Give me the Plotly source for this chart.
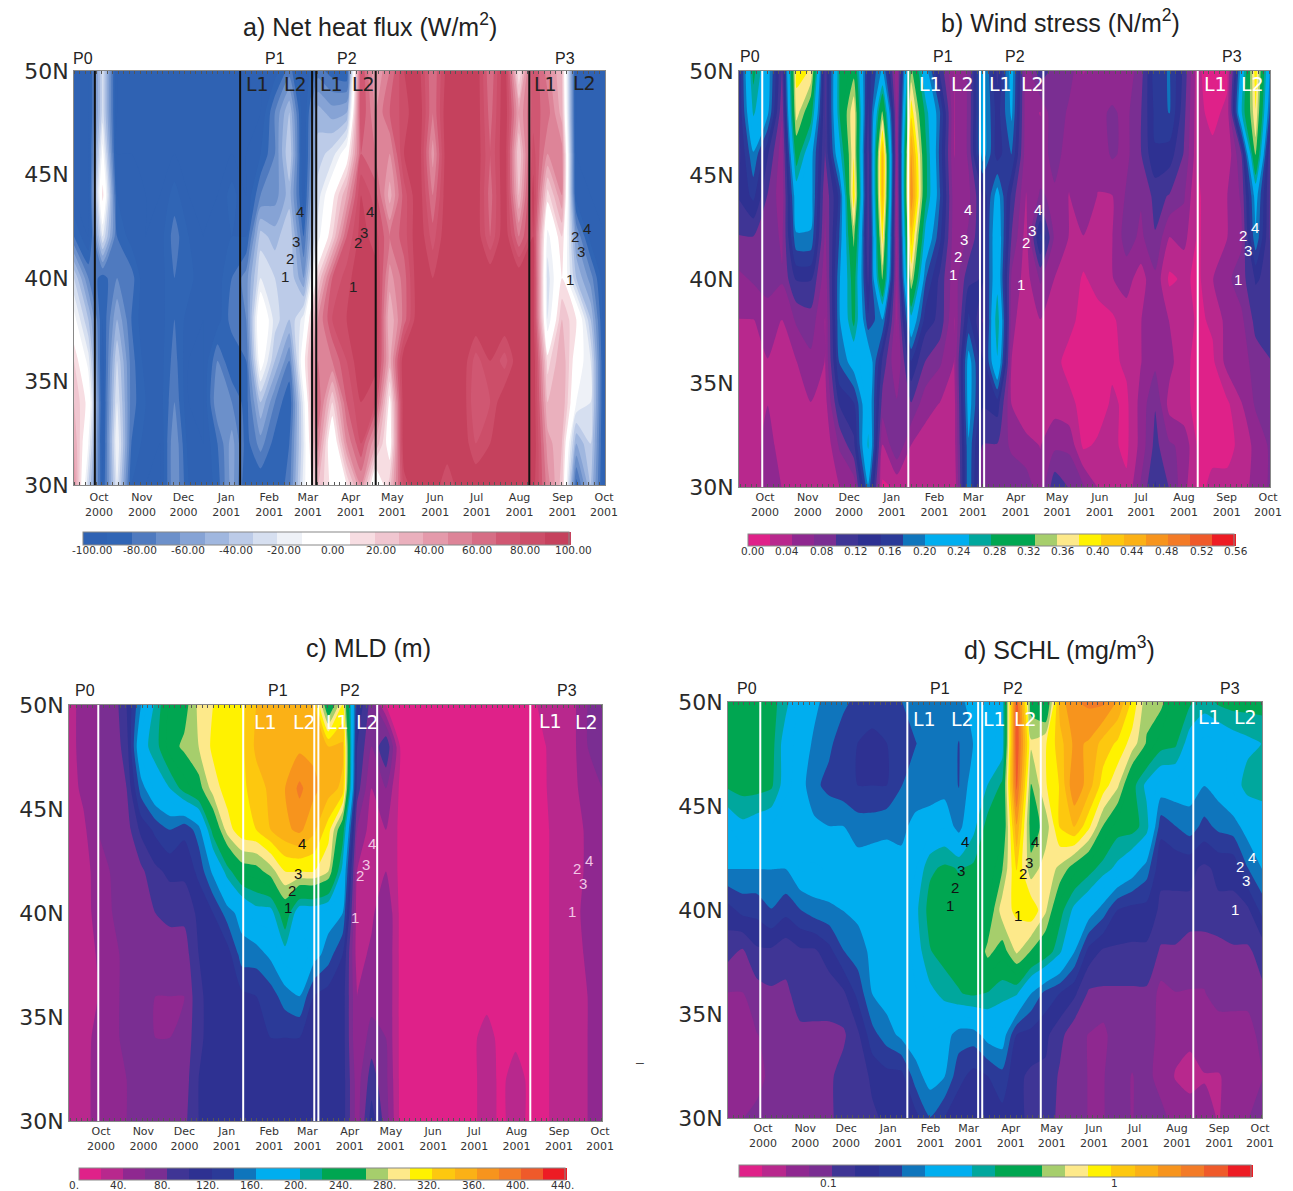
import numpy as np
import pandas as pd
import plotly.graph_objects as go

W, H = 1293, 1191

LATITUDES = [50, 48, 46, 44, 42, 40, 38, 36, 34, 32, 30]
MONTH_DATES = ["2000-10-01", "2000-11-01", "2000-12-01", "2001-01-01", "2001-02-01", "2001-03-01", "2001-04-01",
               "2001-05-01", "2001-06-01", "2001-07-01", "2001-08-01", "2001-09-01", "2001-10-01"]
MONTH_LABELS = ["Oct<br>2000", "Nov<br>2000", "Dec<br>2000", "Jan<br>2001", "Feb<br>2001", "Mar<br>2001", "Apr<br>2001",
                "May<br>2001", "Jun<br>2001", "Jul<br>2001", "Aug<br>2001", "Sep<br>2001", "Oct<br>2001"]
PERIOD_DATES = ["2000-09-29", "2001-01-13", "2001-03-06", "2001-03-09", "2001-04-21", "2001-08-11"]
PERIOD_DATES_A = ["2000-09-28", "2001-01-11", "2001-03-04", "2001-03-07", "2001-04-19", "2001-08-08"]
PERIOD_DATES_D = ["2000-09-29", "2001-01-15", "2001-03-08", "2001-03-11", "2001-04-23", "2001-08-13"]

# each inner list: one time step, lat 50N down to 30N
NET_HEAT = [
 [-100,-100,-100,-100,-80,-30,-5,20,30,40,50],
 [-100,-100,-100,-100,-100,-70,-40,-15,5,-10,-30],
 [-25,-25,-5,15,-20,-85,-90,-95,-95,-95,-90],
 [-100,-100,-100,-90,-80,-70,-50,-30,-20,-10,-20],
 [-100,-100,-100,-90,-95,-75,-80,-75,-75,-80,-90],
 [-100,-100,-100,-100,-100,-100,-100,-95,-90,-95,-100],
 [-100,-100,-100,-100,-95,-95,-95,-95,-95,-100,-100],
 [-100,-100,-100,-85,-75,-80,-80,-75,-70,-60,-60],
 [-100,-100,-100,-100,-90,-85,-95,-100,-100,-95,-90],
 [-100,-100,-100,-100,-100,-100,-100,-100,-100,-100,-100],
 [-100,-100,-100,-100,-95,-95,-95,-70,-60,-80,-85],
 [-100,-100,-100,-85,-90,-80,-75,-90,-70,-55,-55],
 [-100,-100,-100,-100,-90,-65,-70,-80,-85,-85,-90],
 [-100,-100,-90,-70,-35,-20,10,0,-40,-65,-90],
 [-95,-70,-70,-65,-45,-30,-25,-40,-70,-85,-90],
 [-75,-40,-30,-45,-30,-30,-40,-70,-90,-80,-75],
 [-100,-100,-100,-95,-80,-60,-15,5,-15,-20,-15],
 [-75,-45,-35,-25,-15,20,50,60,70,55,30],
 [-85,-55,-25,5,20,70,80,60,20,-10,5],
 [-90,-50,0,40,70,85,90,80,70,50,10],
 [80,80,70,90,95,100,100,100,90,80,50],
 [40,50,60,75,85,95,100,95,80,40,-10],
 [60,70,50,35,60,45,30,35,5,0,25],
 [90,85,90,75,75,65,65,100,100,100,85],
 [95,100,100,100,100,100,100,100,100,100,100],
 [60,60,45,60,75,90,100,100,100,100,100],
 [95,100,100,100,100,100,100,100,100,100,80],
 [100,100,100,100,100,100,100,100,100,100,100],
 [100,100,100,100,100,100,100,75,70,80,100],
 [60,65,70,65,70,100,100,90,80,90,100],
 [100,100,100,100,100,100,100,75,100,100,100],
 [10,40,20,30,60,100,100,100,100,100,100],
 [80,75,85,95,90,95,95,100,100,100,95],
 [55,65,50,15,-15,-25,-20,15,30,45,55],
 [30,35,55,50,20,10,30,40,40,30,25],
 [-100,-100,-100,-95,-60,-40,10,0,-10,-50,-85],
 [-100,-100,-100,-100,-95,-65,-40,-20,-20,-30,-40],
 [-100,-100,-100,-100,-100,-100,-100,-100,-100,-100,-100],
]

WIND_STRESS = [
 [.13,.13,.12,.13,.10,.07,.05,.04,.04,.03,.03],
 [.29,.26,.20,.16,.10,.08,.05,.04,.03,.03,.03],
 [.22,.21,.13,.10,.10,.09,.06,.05,.05,.07,.07],
 [.10,.08,.06,.06,.07,.08,.05,.03,.03,.03,.05],
 [.39,.37,.30,.23,.20,.13,.08,.05,.04,.05,.05],
 [.38,.30,.22,.22,.20,.13,.09,.07,.05,.05,.05],
 [.10,.10,.10,.08,.07,.06,.05,.05,.04,.03,.04],
 [.28,.28,.24,.16,.18,.20,.20,.18,.13,.08,.05],
 [.32,.38,.38,.40,.34,.30,.29,.22,.15,.12,.06],
 [.14,.12,.10,.10,.10,.12,.16,.24,.24,.26,.20],
 [.21,.34,.44,.44,.39,.34,.20,.12,.09,.05,.02],
 [.05,.06,.06,.05,.05,.05,.05,.05,.08,.10,.03],
 [.34,.40,.46,.48,.42,.36,.24,.15,.10,.05,.03],
 [.22,.27,.29,.29,.24,.18,.14,.10,.06,.04,.03],
 [.12,.18,.17,.18,.16,.12,.12,.08,.05,.03,.03],
 [.05,.05,.05,.06,.06,.06,.05,.05,.04,.04,.03],
 [.08,.08,.08,.07,.08,.12,.16,.22,.22,.20,.20],
 [.22,.22,.22,.13,.13,.13,.10,.13,.13,.10,.08],
 [.12,.14,.14,.22,.24,.24,.28,.25,.14,.10,.08],
 [.22,.21,.18,.12,.10,.07,.06,.05,.05,.07,.10],
 [.06,.06,.06,.05,.04,.04,.03,.03,.03,.06,.09],
 [.12,.05,.06,.08,.16,.08,.05,.03,.04,.05,.06],
 [.09,.10,.09,.07,.07,.05,.03,.03,.04,.07,.12],
 [.09,.07,.06,.05,.05,.05,.03,.02,.03,.07,.10],
 [.05,.06,.06,.07,.05,.02,.02,.01,.02,.02,.08],
 [.06,.07,.06,.05,.05,.04,.01,.01,.01,.03,.05],
 [.06,.08,.08,.05,.05,.05,.02,.02,.03,.03,.04],
 [.06,.07,.07,.08,.09,.06,.04,.03,.02,.02,.03],
 [.09,.10,.10,.08,.07,.04,.05,.05,.06,.06,.08],
 [.17,.16,.15,.11,.10,.07,.07,.07,.10,.11,.13],
 [.18,.18,.14,.10,.05,.02,.05,.06,.04,.08,.10],
 [.12,.11,.10,.08,.06,.03,.04,.03,.03,.07,.06],
 [.03,.03,.03,.02,.02,.02,.02,.02,.02,.02,.02],
 [.01,.02,.03,.05,.05,.05,.03,.02,.02,.02,.03],
 [.02,.03,.03,.05,.05,.07,.06,.06,.02,.02,.03],
 [.22,.25,.10,.08,.07,.09,.07,.06,.05,.03,.04],
 [.40,.38,.34,.22,.20,.13,.11,.09,.08,.06,.06],
 [.20,.17,.10,.10,.10,.12,.12,.10,.09,.08,.08],
]

MLD = [
 [30,30,30,28,25,25,25,25,25,25,25],
 [50,50,45,35,30,30,28,30,30,30,30],
 [60,60,60,60,50,48,42,40,48,50,50],
 [65,65,65,65,62,60,55,55,55,55,50],
 [100,90,80,70,70,65,65,65,65,60,60],
 [160,190,150,105,75,70,70,70,70,70,70],
 [205,210,185,125,95,80,65,60,60,65,70],
 [245,250,200,140,105,85,70,60,60,65,70],
 [250,265,230,125,105,85,70,60,65,70,75],
 [285,280,250,150,125,105,100,95,95,100,100],
 [300,305,290,230,165,120,110,110,110,110,110],
 [305,310,310,290,210,150,110,110,115,115,115],
 [315,315,315,315,245,170,150,115,115,115,115],
 [340,345,330,320,250,190,150,120,115,120,120],
 [350,345,345,340,270,190,165,130,120,120,120],
 [350,350,360,355,300,240,190,150,120,120,120],
 [345,355,385,365,300,180,195,160,120,120,120],
 [340,355,365,345,300,180,170,120,115,115,115],
 [230,340,350,310,280,170,150,110,110,110,110],
 [300,345,335,235,190,160,120,110,110,110,110],
 [120,100,90,60,40,30,30,40,40,50,50],
 [70,60,40,30,35,35,45,50,70,90,110],
 [20,100,60,40,40,60,60,60,60,65,70],
 [20,18,15,15,15,15,15,15,15,15,15],
 [15,15,15,12,12,12,12,12,12,12,12],
 [15,15,15,12,12,12,12,12,12,12,12],
 [15,15,12,12,12,12,12,12,12,12,12],
 [15,15,12,12,12,12,12,12,12,12,12],
 [18,18,15,12,12,12,12,12,15,15,15],
 [18,15,15,12,12,12,12,12,30,30,30],
 [15,15,12,12,12,12,12,12,12,15,15],
 [10,10,10,10,10,10,10,10,15,30,30],
 [10,10,10,10,10,10,10,10,10,15,15],
 [30,18,18,15,15,15,15,15,15,15,15],
 [35,35,30,30,30,30,30,30,30,30,30],
 [35,35,35,35,35,35,35,35,35,35,35],
 [60,60,50,42,42,45,42,40,40,40,40],
 [65,65,60,55,50,55,50,50,50,50,50],
]

SCHL = [
 [.42,.42,.40,.26,.22,.14,.11,.085,.08,.075,.08],
 [.42,.42,.42,.30,.22,.16,.10,.085,.08,.075,.085],
 [.42,.42,.42,.28,.22,.16,.12,.095,.085,.08,.09],
 [.42,.42,.40,.26,.22,.18,.12,.10,.09,.09,.09],
 [.34,.28,.28,.23,.22,.16,.11,.10,.09,.09,.10],
 [.25,.25,.24,.23,.27,.18,.12,.11,.10,.10,.10],
 [.23,.21,.19,.23,.27,.20,.12,.11,.10,.10,.10],
 [.20,.19,.17,.22,.26,.21,.14,.11,.10,.10,.10],
 [.19,.16,.16,.22,.25,.22,.18,.12,.10,.11,.11],
 [.17,.15,.15,.20,.24,.23,.20,.16,.12,.11,.12],
 [.17,.14,.15,.20,.25,.24,.23,.22,.17,.13,.12],
 [.18,.15,.15,.21,.24,.24,.23,.24,.20,.14,.13],
 [.18,.16,.18,.21,.23,.25,.24,.25,.23,.14,.13],
 [.20,.18,.20,.23,.26,.30,.28,.26,.25,.20,.14],
 [.20,.20,.20,.24,.37,.42,.38,.30,.26,.24,.18],
 [.20,.20,.20,.26,.40,.42,.42,.34,.24,.22,.15],
 [.20,.18,.18,.20,.38,.42,.42,.38,.20,.16,.13],
 [.25,.22,.25,.30,.40,.42,.42,.40,.20,.14,.13],
 [.24,.25,.32,.42,.40,.45,.60,.38,.24,.15,.14],
 [.28,.28,.40,.42,.55,.75,.50,.34,.25,.17,.14],
 [2.4,2.5,2.2,1.4,1.0,.85,.70,.33,.15,.13,.13],
 [.50,.70,.55,.50,.60,.95,.55,.22,.14,.12,.12],
 [.40,.80,.80,.60,.75,.70,.45,.17,.13,.12,.11],
 [1.3,1.1,1.0,1.0,.65,.42,.33,.15,.11,.10,.10],
 [1.7,1.5,1.7,1.2,.50,.30,.22,.13,.09,.09,.09],
 [1.8,1.4,1.3,.85,.42,.25,.14,.10,.085,.085,.085],
 [1.8,1.1,.90,.55,.35,.20,.12,.10,.08,.085,.085],
 [1.4,.95,.70,.42,.30,.15,.12,.10,.10,.09,.09],
 [.95,.75,.42,.42,.25,.14,.12,.10,.09,.085,.085],
 [.60,.55,.30,.35,.20,.14,.12,.10,.095,.09,.09],
 [.60,.42,.25,.16,.13,.12,.10,.08,.08,.08,.09],
 [.42,.40,.25,.18,.13,.12,.10,.085,.075,.07,.08],
 [.40,.28,.24,.20,.13,.12,.09,.085,.075,.065,.08],
 [.35,.25,.22,.17,.12,.12,.09,.085,.08,.07,.075],
 [.40,.25,.24,.19,.13,.12,.095,.09,.08,.07,.07],
 [.42,.28,.28,.20,.13,.12,.10,.09,.08,.075,.08],
 [.42,.30,.35,.24,.18,.12,.10,.09,.08,.08,.085],
 [.42,.32,.38,.24,.22,.16,.11,.10,.09,.085,.09],
]

HEAT_TICKS = ["-100.00","-80.00","-60.00","-40.00","-20.00","0.00","20.00","40.00","60.00","80.00","100.00"]
WIND_TICKS = ["0.00","0.04","0.08","0.12","0.16","0.20","0.24","0.28","0.32","0.36","0.40","0.44","0.48","0.52","0.56"]
MLD_TICKS = ["0.","40.","80.","120.","160.","200.","240.","280.","320.","360.","400.","440."]
SCHL_TICKS = ["0.1","1"]

HEAT_COLORS = ['#2f62b3','#3065b5','#4f7abf','#6c90ca','#86a3d5','#a0b7df','#bccbe8','#d6dff0','#eef1f7','#ffffff',
               '#ffffff','#f7dde2','#f0c6d0','#eab0bd','#e49aab','#dd8498','#d66d85','#d05772','#cc4e69','#c5415d']
RAINBOW = ['#df2189','#b8288d','#8f2890','#7a2e92','#3f3595','#2e3192','#2b3a98','#0f75bc','#00aeef','#00aeef','#00a79d',
           '#00a651','#00a651','#a6ce6c','#fde98a','#fff200','#fdc80f','#fbb116','#f7941d','#f37b27','#ef5a2a','#ed1c24']

def stepped(colors):
    n = len(colors)
    out = []
    for i, c in enumerate(colors):
        out += [[i / n, c], [(i + 1) / n, c]]
    return out

def px_x(x): return x / W
def px_y(y): return 1 - y / H

fig = go.Figure()
annos = []
shapes = []

def label(x, y, text, size, color="#222222", font="Liberation Sans"):
    annos.append(dict(x=px_x(x), y=px_y(y), xref="paper", yref="paper", text=text, showarrow=False,
                      xanchor="center", yanchor="middle", font=dict(size=size, color=color, family=font)))

NARROW = "Liberation Sans Narrow, Liberation Sans"

PANELS = [
 dict(z=NET_HEAT, box=(74,605,71,485), r0=25, r1=530, start=-100, end=100, size=10, colors=HEAT_COLORS, dates=PERIOD_DATES_A,
      cbox=(83,569,532,545), ctt=HEAT_TICKS, cx=(92,573), cy=550.5, standoff=2,
      title="a) Net heat flux (W/m<sup>2</sup>)", tpos=(370,25), line="#111111",
      p=[(83,58),(275,58),(347,58),(565,58)],
      L=[(257,84),(295,84),(331,84),(363,84),(545,84),(584,83)], lc="#222222",
      n=[(285,276),(290,258),(296,241),(300,211),(353,286),(358,243),(364,232),(370,211),(570,280),(575,236),(581,251),(587,228)],
      nc=["#222222"]*12),
 dict(z=WIND_STRESS, box=(739,1270,71,487), r0=26, r1=529, start=0, end=0.56, size=0.56/22, colors=RAINBOW, dates=PERIOD_DATES,
      cbox=(748,1234,534,546), ctt=WIND_TICKS, cx=(752,1236), cy=551, standoff=0,
      title="b) Wind stress (N/m<sup>2</sup>)", tpos=(1060,21), line="#ffffff",
      p=[(750,57),(943,57),(1015,57),(1232,57)],
      L=[(930,84),(962,84),(1000,84),(1032,84),(1215,84),(1252,84)], lc="#ffffff",
      n=[(953,275),(958,257),(964,240),(968,210),(1021,285),(1026,242),(1032,231),(1038,209),(1238,279),(1243,235),(1248,250),(1255,227)],
      nc=["#ffffff"]*12),
 dict(z=MLD, box=(69,602,705,1121), r0=32, r1=531, start=0, end=440, size=20, colors=RAINBOW, dates=PERIOD_DATES,
      cbox=(79,565,1168,1180), ctt=MLD_TICKS, cx=(74,562), cy=1185, standoff=0,
      title="c) MLD (m)", tpos=(369,648), line="#ffffff",
      p=[(85,690),(278,690),(350,690),(567,690)],
      L=[(265,722),(304,722),(337,722),(367,722),(550,721),(586,722)], lc="#ffffff",
      n=[(288,907),(292,890),(298,873),(302,843),(355,917),(360,875),(366,864),(372,843),(572,911),(577,868),(583,883),(589,860)],
      nc=["#111111"]*4+["#f2c6e6"]*8),
 dict(z=np.log10(SCHL).tolist(), box=(728,1262,702,1118), r0=35, r1=532, start=-1.313, end=0.483, size=(0.483+1.313)/22, colors=RAINBOW, dates=PERIOD_DATES_D,
      cbox=(739,1251,1165,1177), ctt=SCHL_TICKS, cx=(828,1114), cy=1183, standoff=0,
      title="d) SCHL (mg/m<sup>3</sup>)", tpos=(1059,648), line="#ffffff",
      p=[(747,688),(940,688),(1013,688),(1230,688)],
      L=[(924,719),(962,719),(994,719),(1025,719),(1209,717),(1245,717)], lc="#ffffff",
      n=[(950,905),(955,887),(961,870),(965,841),(1018,915),(1023,873),(1029,862),(1035,841),(1235,909),(1240,866),(1246,880),(1252,857)],
      nc=["#111111"]*8+["#ffffff"]*4),
]

oct1 = pd.Timestamp("2000-10-01")
oct1b = pd.Timestamp("2001-10-01")
layout = {}
for k, P in enumerate(PANELS):
    s = "" if k == 0 else str(k + 1)
    L, R, T, B = P["box"]
    ppd = (P["r1"] - P["r0"]) / 365
    t0 = oct1 - pd.Timedelta(days=P["r0"] / ppd)
    t1 = oct1b + pd.Timedelta(days=(R - L - P["r1"]) / ppd)
    cols = pd.date_range(t0, t1, periods=len(P["z"]))
    z = np.array(P["z"]).T
    cL, cR, cT, cB = P["cbox"]
    fig.add_trace(go.Contour(
        x=[d.isoformat() for d in cols], y=LATITUDES, z=z.tolist(), xaxis="x" + s, yaxis="y" + s,
        autocontour=False, contours=dict(start=P["start"], end=P["end"] + 1e-9, size=P["size"], coloring="fill", showlines=False),
        zmin=P["start"], zmax=P["end"], colorscale=stepped(P["colors"]), line=dict(width=0, smoothing=0.6),
        hoverinfo="skip",
        colorbar=dict(orientation="h", x=px_x(cL), xanchor="left", y=px_y(cT), yanchor="top", xref="paper", yref="paper",
                      len=cR - cL, lenmode="pixels", thickness=cB - cT, thicknessmode="pixels", xpad=0, ypad=0,
                      outlinewidth=1, outlinecolor="#888888", ticks="", showticklabels=False),
    ))
    common = dict(showgrid=False, zeroline=False, showline=True, linecolor="#888888", linewidth=1)
    layout["xaxis" + s] = dict(common, type="date", domain=[px_x(L), px_x(R)], anchor="y" + s, mirror="ticks",
                               range=[t0.isoformat(), t1.isoformat()], tickmode="array", tickvals=MONTH_DATES,
                               ticktext=MONTH_LABELS, ticks="", ticklabelstandoff=P["standoff"],
                               minor=dict(ticks="inside", ticklen=3, tickwidth=1, tickcolor="#555555", dtick=4 * 86400000),
                               tickfont=dict(family="DejaVu Sans", size=11, color="#333333"))
    layout["yaxis" + s] = dict(common, domain=[px_y(B), px_y(T)], anchor="x" + s, range=[30, 50], mirror=True,
                               tickmode="array", tickvals=[30,35,40,45,50], ticktext=["30N","35N","40N","45N","50N"],
                               ticks="", tickfont=dict(family="DejaVu Sans", size=22, color="#2a2a2a"))
    for d in P["dates"]:
        shapes.append(dict(type="line", xref="x" + s, yref="y" + s, x0=d, x1=d, y0=30, y1=50,
                           line=dict(color=P["line"], width=2)))
    label(P["tpos"][0], P["tpos"][1], P["title"], 25)
    for (x, y), t in zip(P["p"], ["P0", "P1", "P2", "P3"]):
        label(x, y, t, 16, "#222222", NARROW)
    for (x, y), t in zip(P["L"], ["L1", "L2"] * 3):
        label(x, y, t, 19, P["lc"], "DejaVu Sans")
    for (x, y), t, c in zip(P["n"], ["1", "2", "3", "4"] * 3, P["nc"]):
        label(x, y, t, 15, c, NARROW)
    x0, x1 = P["cx"]
    n = len(P["ctt"])
    for i, t in enumerate(P["ctt"]):
        label(x0 + (x1 - x0) * i / (n - 1), P["cy"], t, 10.5, "#333333", "DejaVu Sans")

label(640, 1062, "–", 14, "#444444")

fig.update_layout(width=W, height=H, margin=dict(l=0, r=0, t=0, b=0, autoexpand=False), paper_bgcolor="white", plot_bgcolor="white",
                  showlegend=False, annotations=annos, shapes=shapes, **layout)
fig.write_html("out.html", post_script="document.body.style.margin='0';", config={"displayModeBar": False})
